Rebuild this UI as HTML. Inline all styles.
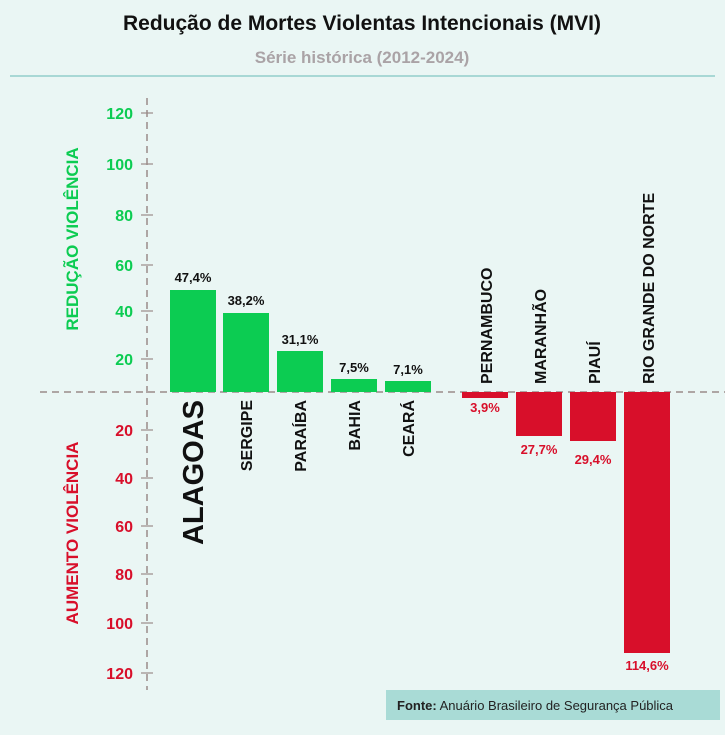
<!DOCTYPE html>
<html><head><meta charset="utf-8"><style>
body{margin:0;width:725px;height:730px;background:#eaf6f4;font-family:"Liberation Sans",sans-serif;overflow:hidden}
</style></head><body>
<svg width="725" height="730" xmlns="http://www.w3.org/2000/svg" font-family="Liberation Sans, sans-serif">
<text x="362" y="30" text-anchor="middle" font-size="21" font-weight="bold" fill="#111">Redução de Mortes Violentas Intencionais (MVI)</text>
<text x="362" y="63" text-anchor="middle" font-size="17" font-weight="bold" fill="#aaa3a6">Série histórica (2012-2024)</text>
<line x1="10" y1="76" x2="715" y2="76" stroke="#a8d8d5" stroke-width="2"/>
<line x1="147" y1="98" x2="147" y2="690" stroke="#9a8c8a" stroke-width="1.5" stroke-dasharray="7,5"/>
<line x1="40" y1="392" x2="725" y2="392" stroke="#9a8c8a" stroke-width="1.5" stroke-dasharray="7,5"/>
<g font-size="16" font-weight="bold" fill="#0ccc52" text-anchor="end">
<text x="133" y="119">120</text><text x="133" y="170">100</text><text x="133" y="221">80</text><text x="133" y="271">60</text><text x="133" y="317">40</text><text x="133" y="365">20</text></g>
<g font-size="16" font-weight="bold" fill="#d80f2a" text-anchor="end">
<text x="133" y="436">20</text><text x="133" y="484">40</text><text x="133" y="532">60</text><text x="133" y="580">80</text><text x="133" y="629">100</text><text x="133" y="679">120</text></g>
<g stroke="#9a8c8a" stroke-width="1.2">
<line x1="141" y1="113" x2="153" y2="113"/><line x1="141" y1="164" x2="153" y2="164"/><line x1="141" y1="215" x2="153" y2="215"/><line x1="141" y1="265" x2="153" y2="265"/><line x1="141" y1="311" x2="153" y2="311"/><line x1="141" y1="359" x2="153" y2="359"/>
<line x1="141" y1="430" x2="153" y2="430"/><line x1="141" y1="478" x2="153" y2="478"/><line x1="141" y1="526" x2="153" y2="526"/><line x1="141" y1="574" x2="153" y2="574"/><line x1="141" y1="623" x2="153" y2="623"/><line x1="141" y1="673" x2="153" y2="673"/></g>
<text transform="translate(78,239) rotate(-90)" text-anchor="middle" font-size="17" font-weight="bold" fill="#0ccc52">REDUÇÃO VIOLÊNCIA</text>
<text transform="translate(78,533) rotate(-90)" text-anchor="middle" font-size="17" font-weight="bold" fill="#d80f2a">AUMENTO VIOLÊNCIA</text>
<g fill="#0ccc52">
<rect x="170" y="290" width="46" height="102"/><rect x="223" y="313" width="46" height="79"/><rect x="277" y="351" width="46" height="41"/><rect x="331" y="379" width="46" height="13"/><rect x="385" y="381" width="46" height="11"/></g>
<g fill="#d80f2a">
<rect x="462" y="392" width="46" height="6"/><rect x="516" y="392" width="46" height="44"/><rect x="570" y="392" width="46" height="49"/><rect x="624" y="392" width="46" height="261"/></g>
<g font-size="13" font-weight="bold" fill="#111" text-anchor="middle">
<text x="193" y="282">47,4%</text><text x="246" y="305">38,2%</text><text x="300" y="344">31,1%</text><text x="354" y="372">7,5%</text><text x="408" y="374">7,1%</text></g>
<g font-size="13" font-weight="bold" fill="#d80f2a" text-anchor="middle">
<text x="485" y="412">3,9%</text><text x="539" y="454">27,7%</text><text x="593" y="464">29,4%</text><text x="647" y="670">114,6%</text></g>
<text transform="translate(203,400) rotate(-90)" text-anchor="end" font-size="29" font-weight="bold" fill="#111">ALAGOAS</text>
<g font-size="16" font-weight="bold" fill="#111">
<text transform="translate(252,400) rotate(-90)" text-anchor="end">SERGIPE</text>
<text transform="translate(306,400) rotate(-90)" text-anchor="end">PARAÍBA</text>
<text transform="translate(360,400) rotate(-90)" text-anchor="end">BAHIA</text>
<text transform="translate(414,400) rotate(-90)" text-anchor="end">CEARÁ</text>
<text transform="translate(492,384) rotate(-90)">PERNAMBUCO</text>
<text transform="translate(546,384) rotate(-90)">MARANHÃO</text>
<text transform="translate(600,384) rotate(-90)">PIAUÍ</text>
<text transform="translate(654,384) rotate(-90)">RIO GRANDE DO NORTE</text></g>
<rect x="386" y="690" width="334" height="30" fill="#a9dbd6"/>
<text x="397" y="710" font-size="13" fill="#222"><tspan font-weight="bold">Fonte:</tspan> Anuário Brasileiro de Segurança Pública</text>
</svg>
</body></html>
